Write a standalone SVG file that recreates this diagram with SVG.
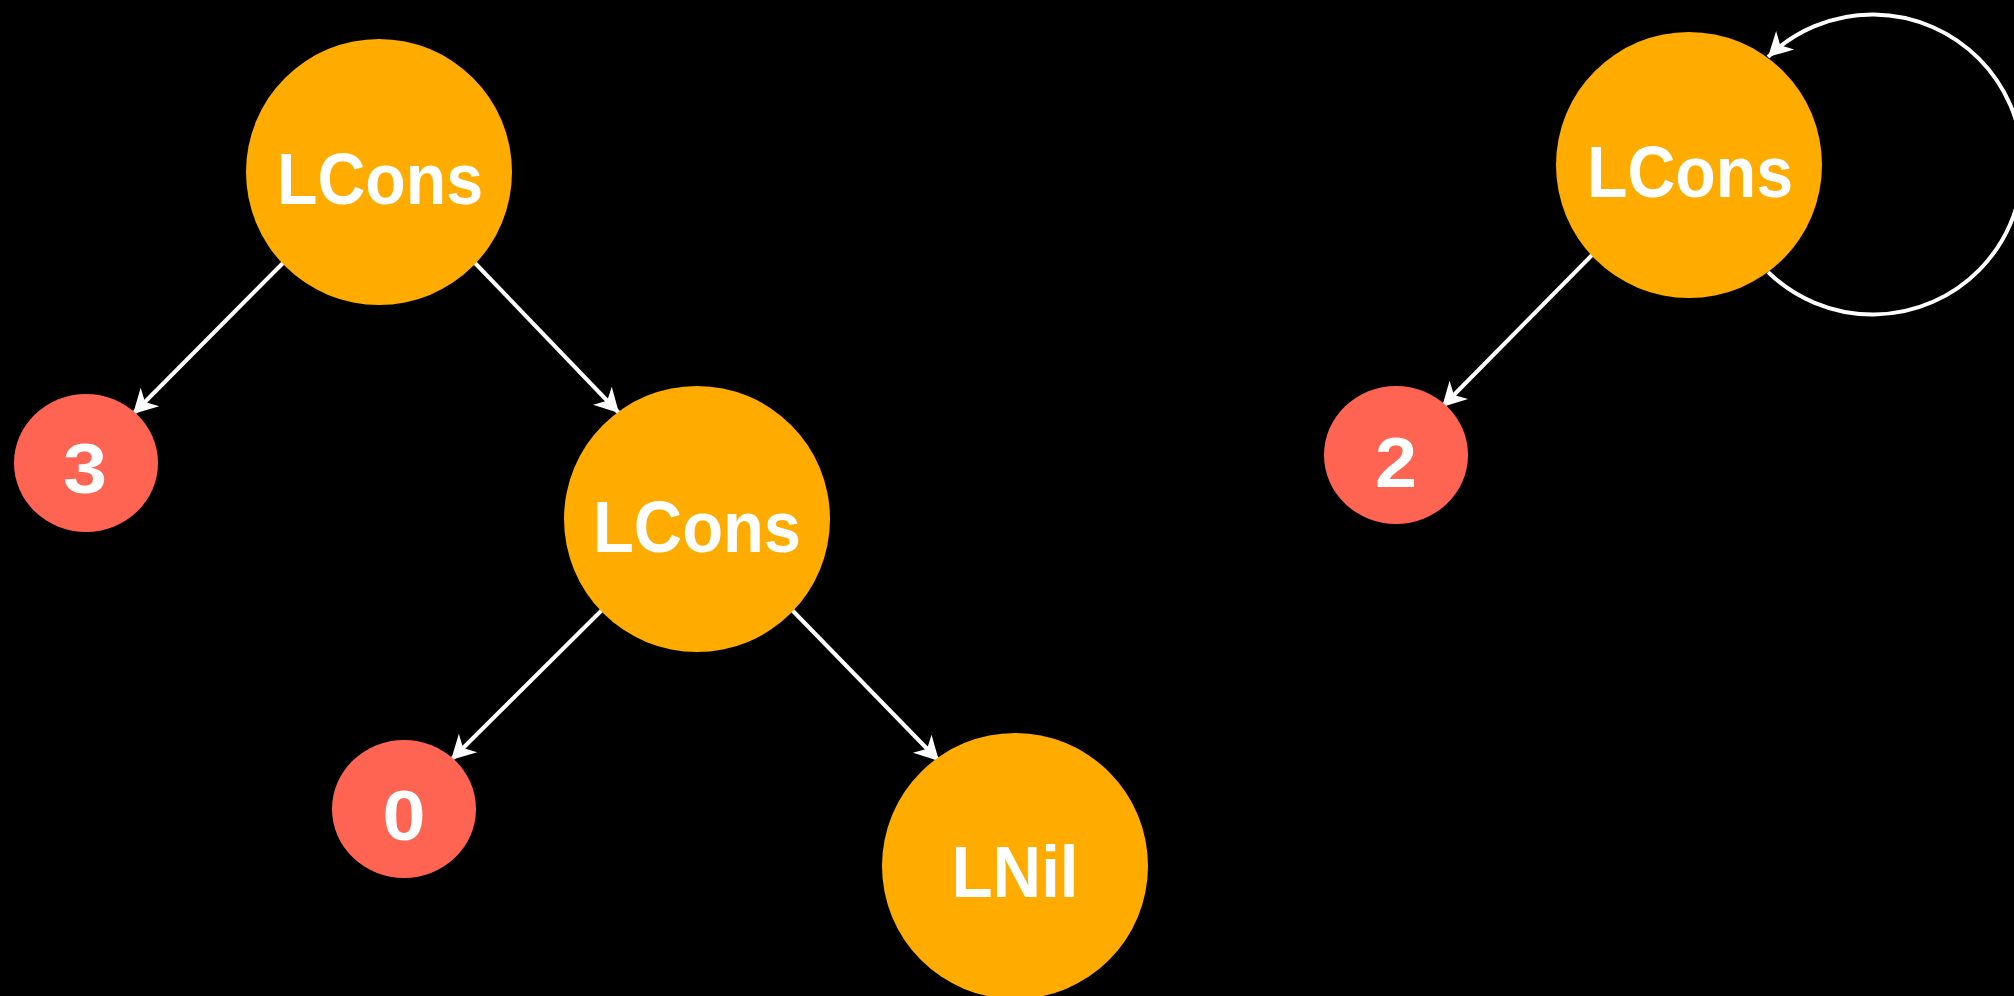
<svg xmlns="http://www.w3.org/2000/svg" width="2014" height="996" viewBox="0 0 2014 996">
  <style>
    .edge { fill: none; stroke: #ffffff; stroke-width: 4; marker-end: url(#arrow); }
    .cons { fill: #ffab00; }
    .val { fill: #ff6452; }
    .label { fill: #ffffff; font-family: "Liberation Sans", Arial, sans-serif; font-weight: bold; text-anchor: middle; }
    .big { font-size: 73px; }
    .num { font-size: 70px; }
  </style>
  <defs>
    <marker id="arrow" markerUnits="userSpaceOnUse" markerWidth="30" markerHeight="30" refX="26" refY="15" orient="auto" viewBox="0 0 30 30">
      <path d="M26,15 L2,2 L9,15 L2,28 Z" fill="#ffffff"/>
    </marker>
  </defs>
  <rect x="0" y="0" width="2014" height="996" fill="#000000"/>

  <g id="connectors">
    <line class="edge" x1="283" y1="263" x2="133" y2="414"/>
    <line class="edge" x1="475" y1="263" x2="619" y2="413"/>
    <line class="edge" x1="602" y1="610" x2="451" y2="760"/>
    <line class="edge" x1="792" y1="610" x2="939" y2="761"/>
    <line class="edge" x1="1593" y1="254" x2="1442" y2="407"/>
    <path class="edge" d="M1768,272 A150,150 0 1 0 1768,57"/>
  </g>

  <g id="node-lcons-1">
    <circle class="cons" cx="379" cy="172" r="133"/>
    <text class="label big" x="380" y="204" textLength="206" lengthAdjust="spacingAndGlyphs">LCons</text>
  </g>
  <g id="node-3">
    <ellipse class="val" cx="86" cy="463" rx="72" ry="69"/>
    <text class="label num" x="85" y="493" textLength="44" lengthAdjust="spacingAndGlyphs">3</text>
  </g>
  <g id="node-lcons-2">
    <circle class="cons" cx="697" cy="519" r="133"/>
    <text class="label big" x="697" y="552" textLength="208" lengthAdjust="spacingAndGlyphs">LCons</text>
  </g>
  <g id="node-0">
    <ellipse class="val" cx="404" cy="809" rx="72" ry="69"/>
    <text class="label num" x="404" y="840" textLength="43" lengthAdjust="spacingAndGlyphs">0</text>
  </g>
  <g id="node-lnil">
    <circle class="cons" cx="1015" cy="866" r="133"/>
    <text class="label big" x="1015" y="897" textLength="127" lengthAdjust="spacingAndGlyphs">LNil</text>
  </g>
  <g id="node-lcons-3">
    <circle class="cons" cx="1689" cy="165" r="133"/>
    <text class="label big" x="1690" y="197" textLength="206" lengthAdjust="spacingAndGlyphs">LCons</text>
  </g>
  <g id="node-2">
    <ellipse class="val" cx="1396" cy="455" rx="72" ry="69"/>
    <text class="label num" x="1396" y="487" textLength="42" lengthAdjust="spacingAndGlyphs">2</text>
  </g>
</svg>
